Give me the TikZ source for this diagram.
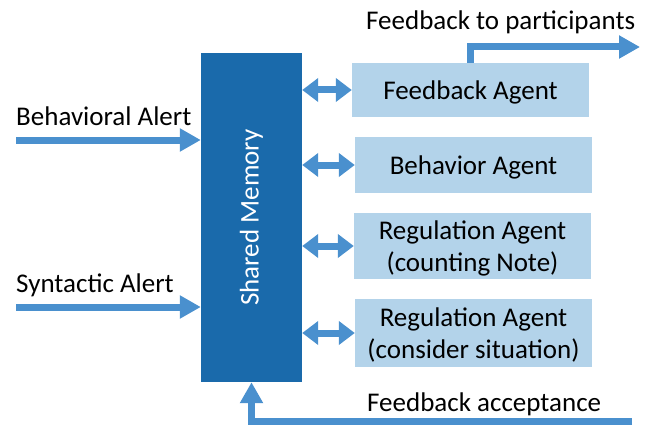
\documentclass[tikz,border=0pt]{standalone}
\usepackage{fontspec}
\setmainfont{Carlito}
\usetikzlibrary{arrows.meta,positioning}
\definecolor{memblue}{HTML}{1A6AAB}
\definecolor{agentblue}{HTML}{B3D3EA}
\definecolor{arrowblue}{HTML}{4A90CE}

\begin{document}
\begin{tikzpicture}[x=1pt,y=-1pt,font=\fontsize{27}{32}\selectfont,
    agent/.style={fill=agentblue, minimum width=237pt, inner sep=0pt, align=center, text depth=0pt},
    flow/.style={draw=arrowblue, line width=7pt, -{Triangle[width=22pt,length=21pt]}},
    twoway/.style={draw=arrowblue, line width=7pt,
        {Triangle[width=23pt,length=16pt]}-{Triangle[width=23pt,length=16pt]}},
    lbl/.style={anchor=base west, inner sep=0pt}]
\useasboundingbox (0,0) rectangle (647,425);
% memory block
\node (mem) [fill=memblue, minimum width=101pt, minimum height=329pt, inner sep=0pt] at (251.5,217.5) {};
\node (memtext) [rotate=90, text=white] at (mem.center) {Shared Memory};
% agents
\node (fb) [agent, minimum height=54pt] at (470.5,90) {Feedback Agent};
\node (beh) [agent, minimum height=56pt] at (473.5,165) {Behavior Agent};
\node (regc) [agent, minimum height=66pt] at (472.5,246) {Regulation Agent\\(counting Note)};
\node (regs) [agent, minimum height=68pt] at (473.5,333) {Regulation Agent\\(consider situation)};
\foreach \a in {fb,beh,regc,regs}
    \draw[twoway] (mem.east |- \a) -- (\a.west);
% alerts in
\coordinate (behin) at (16,140);
\coordinate (synin) at (16,307);
\draw[flow] (behin) -- (behin -| mem.west);
\draw[flow] (synin) -- (synin -| mem.west);
\node (behtext) [lbl] at (16,125) {Behavioral Alert};
\node (syntext) [lbl] at (16,292) {Syntactic Alert};
% feedback out and back
\coordinate (fbout) at (640,47);
\draw[flow] (fb.north) |- (fbout);
\node (fbouttext) [lbl] at (366,30) {Feedback to participants};
\coordinate (accin) at (632,421);
\draw[flow] (accin) -| (mem.south);
\node (acctext) [lbl] at (367,411) {Feedback acceptance};
\end{tikzpicture}
\end{document}
